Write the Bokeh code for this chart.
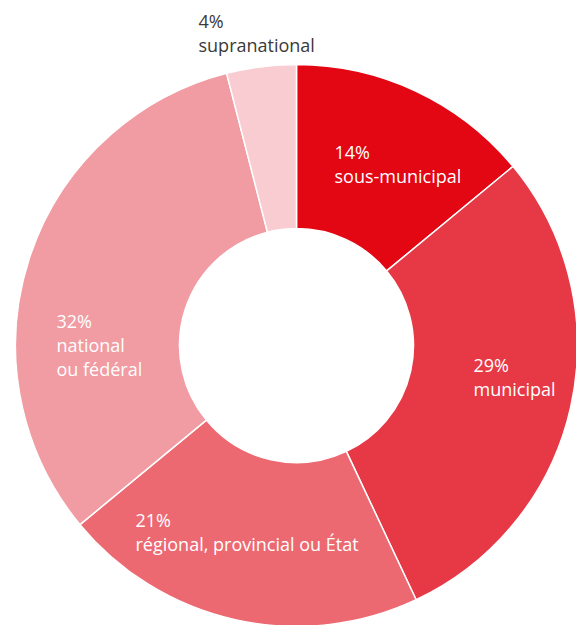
import numpy as np
from bokeh.plotting import figure
from bokeh.models import ColumnDataSource, Range1d
from bokeh.core.properties import value
from bokeh.embed import file_html
from bokeh.resources import INLINE

# ---- data ----
categories = ["sous-municipal", "municipal", "régional, provincial ou État", "national\nou fédéral", "supranational"]
shares = [14, 29, 21, 32, 4]
colors = ["#e30613", "#e73845", "#ec6972", "#f19ba2", "#f8ccd0"]
label_colors = ["white", "white", "white", "white", "#3a3a3a"]

# ---- layout (image pixel positions of label first-line baselines) ----
W, H = 576, 625
def to_x(px): return px
def to_y(py): return H - py
cx, cy = to_x(296), to_y(345)
r_out, r_in = 281, 117
label_pos = [(334, 158), (473, 371), (135, 526), (56, 327), (198, 27)]
line_gap = 24
baseline_fix = 7  # renderer places alphabetic baseline ~7px low

vals = np.array(shares, dtype=float)
frac = vals / vals.sum()
cum = np.concatenate([[0], np.cumsum(frac)])
start = np.pi / 2 - 2 * np.pi * cum[:-1]
end = np.pi / 2 - 2 * np.pi * cum[1:]

wsrc = ColumnDataSource(dict(x=[cx] * len(vals), y=[cy] * len(vals), start=start, end=end, color=colors))

tx, ty, tt, tc = [], [], [], []
for i, (cat, s) in enumerate(zip(categories, shares)):
    lines = [f"{s}%"] + cat.split("\n")
    px, py = label_pos[i]
    for j, ln in enumerate(lines):
        tx.append(to_x(px))
        ty.append(to_y(py + j * line_gap - baseline_fix))
        tt.append(ln)
        tc.append(label_colors[i])
tsrc = ColumnDataSource(dict(x=tx, y=ty, text=tt, color=tc))

p = figure(width=W, height=H, output_backend="svg", toolbar_location=None,
           x_range=Range1d(0, W), y_range=Range1d(0, H), min_border=0)
p.axis.visible = False
p.grid.visible = False
p.outline_line_color = None
p.background_fill_color = "white"
p.border_fill_color = "white"

p.annular_wedge(x="x", y="y", inner_radius=r_in, outer_radius=r_out,
                start_angle="start", end_angle="end", direction="clock",
                fill_color="color", line_color="white", line_width=1.5, source=wsrc)

p.text(x="x", y="y", text="text", text_color="color", source=tsrc,
       text_font=value("Open Sans"), text_font_size="18px",
       text_align="left", text_baseline="alphabetic")

open("out.html", "w").write(file_html(p, INLINE))
